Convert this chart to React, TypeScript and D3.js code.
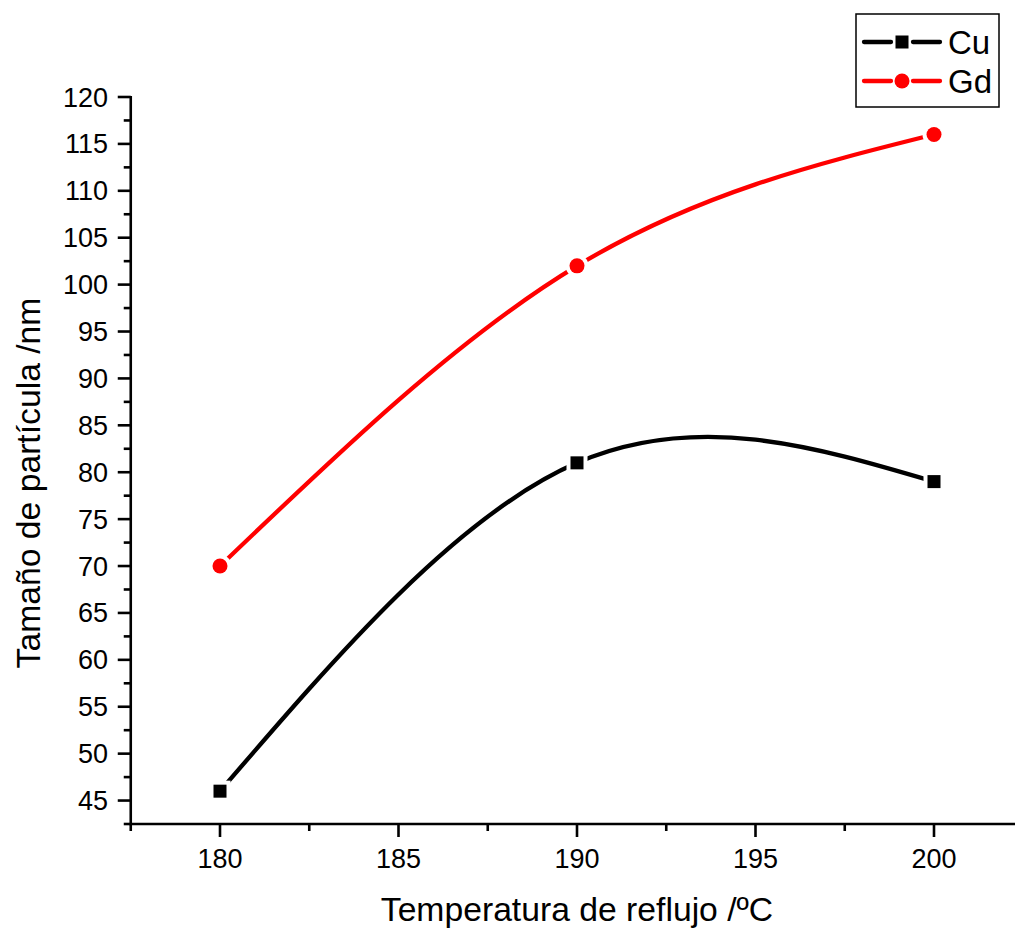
import React from "react";
import * as d3 from "d3";

// Reflux temperature (ºC) and particle size (nm) for each dopant
const temperatures = [180, 190, 200];
const cuSize = [46, 81, 79];
const gdSize = [70, 102, 116];

const xMajorTicks = [180, 185, 190, 195, 200];
const xMinorTicks = [177.5, 182.5, 187.5, 192.5, 197.5, 202.5];
const yMajorTicks = [45, 50, 55, 60, 65, 70, 75, 80, 85, 90, 95, 100, 105, 110, 115, 120];
const yMinorTicks = [42.5, 47.5, 52.5, 57.5, 62.5, 67.5, 72.5, 77.5, 82.5, 87.5, 92.5, 97.5, 102.5, 107.5, 112.5, 117.5];

const seriesNames = ["Cu", "Gd"];

const W = 1015;
const H = 930;
const FONT = "'Liberation Sans', Arial, Helvetica, sans-serif";

export default function App() {
  const x = d3.scaleLinear().domain([177.5, 202.5]).range([130.75, 1023.25]);
  const y = d3.scaleLinear().domain([42.5, 120]).range([824, 97]);

  const line = d3
    .line<[number, number]>()
    .x((d) => x(d[0]))
    .y((d) => y(d[1]))
    .curve(d3.curveNatural);

  const cuPts = temperatures.map((t, i) => [t, cuSize[i]] as [number, number]);
  const gdPts = temperatures.map((t, i) => [t, gdSize[i]] as [number, number]);

  const x0 = x.range()[0];
  const y0 = y.range()[0];
  const yTop = y.range()[1];
  const majorLen = 13;
  const minorLen = 7;
  const axisW = 2.6;

  const square = (cx: number, cy: number, key: string, halo: boolean) => (
    <rect
      key={key}
      x={cx - 6.5}
      y={cy - 6.5}
      width={13}
      height={13}
      fill={halo ? "white" : "black"}
      stroke={halo ? "white" : "none"}
      strokeWidth={halo ? 8 : 0}
    />
  );
  const circle = (cx: number, cy: number, key: string, halo: boolean) => (
    <circle
      key={key}
      cx={cx}
      cy={cy}
      r={7.5}
      fill={halo ? "white" : "#ff0000"}
      stroke={halo ? "white" : "none"}
      strokeWidth={halo ? 8 : 0}
    />
  );

  const legendItems = [
    { name: seriesNames[0], color: "black", y: 42, marker: square },
    { name: seriesNames[1], color: "#ff0000", y: 81, marker: circle },
  ];

  return (
    <svg width={W} height={H} style={{ display: "block", position: "absolute", left: 0, top: 0 }} fontFamily={FONT}>
      <rect width={W} height={H} fill="white" />

      {/* data curves */}
      <path d={line(cuPts) ?? ""} fill="none" stroke="black" strokeWidth={4.3} strokeLinecap="round" />
      <path d={line(gdPts) ?? ""} fill="none" stroke="#ff0000" strokeWidth={4.3} strokeLinecap="round" />

      {/* markers with white halo to open a gap in the curve */}
      {cuPts.map((p, i) => square(x(p[0]), y(p[1]), "cuh" + i, true))}
      {gdPts.map((p, i) => circle(x(p[0]), y(p[1]), "gdh" + i, true))}
      {cuPts.map((p, i) => square(x(p[0]), y(p[1]), "cu" + i, false))}
      {gdPts.map((p, i) => circle(x(p[0]), y(p[1]), "gd" + i, false))}

      {/* axes */}
      <line x1={x0} x2={W + 20} y1={y0} y2={y0} stroke="black" strokeWidth={axisW} />
      <line x1={x0} x2={x0} y1={yTop - 1} y2={y0 + axisW / 2} stroke="black" strokeWidth={axisW} />

      {xMajorTicks.map((t) => (
        <g key={"xt" + t}>
          <line x1={x(t)} x2={x(t)} y1={y0} y2={y0 + majorLen} stroke="black" strokeWidth={axisW} />
          <text x={x(t)} y={868} fontSize={27} textAnchor="middle" fill="black">
            {t}
          </text>
        </g>
      ))}
      {xMinorTicks.map((t) => (
        <line key={"xm" + t} x1={x(t)} x2={x(t)} y1={y0} y2={y0 + minorLen} stroke="black" strokeWidth={axisW} />
      ))}

      {yMajorTicks.map((t) => (
        <g key={"yt" + t}>
          <line x1={x0} x2={x0 - majorLen} y1={y(t)} y2={y(t)} stroke="black" strokeWidth={axisW} />
          <text x={108} y={y(t) + 9.5} fontSize={27} textAnchor="end" fill="black">
            {t}
          </text>
        </g>
      ))}
      {yMinorTicks.map((t) => (
        <line key={"ym" + t} x1={x0} x2={x0 - minorLen} y1={y(t)} y2={y(t)} stroke="black" strokeWidth={axisW} />
      ))}

      {/* axis titles */}
      <text x={577} y={921} fontSize={33.7} textAnchor="middle" fill="black">
        Temperatura de reflujo /ºC
      </text>
      <text
        transform={`translate(40, 483) rotate(-90)`}
        fontSize={33.7}
        textAnchor="middle"
        fill="black"
      >
        Tamaño de partícula /nm
      </text>

      {/* legend */}
      <rect x={856} y={14} width={143} height={93} fill="white" stroke="black" strokeWidth={1.5} />
      {legendItems.map((it) => (
        <g key={it.name}>
          <line x1={864} x2={891} y1={it.y} y2={it.y} stroke={it.color} strokeWidth={4.3} strokeLinecap="round" />
          <line x1={913} x2={940} y1={it.y} y2={it.y} stroke={it.color} strokeWidth={4.3} strokeLinecap="round" />
          {it.marker(902, it.y, "lg" + it.name, false)}
          <text x={948} y={it.y + 11.5} fontSize={33} fill="black">
            {it.name}
          </text>
        </g>
      ))}
    </svg>
  );
}
